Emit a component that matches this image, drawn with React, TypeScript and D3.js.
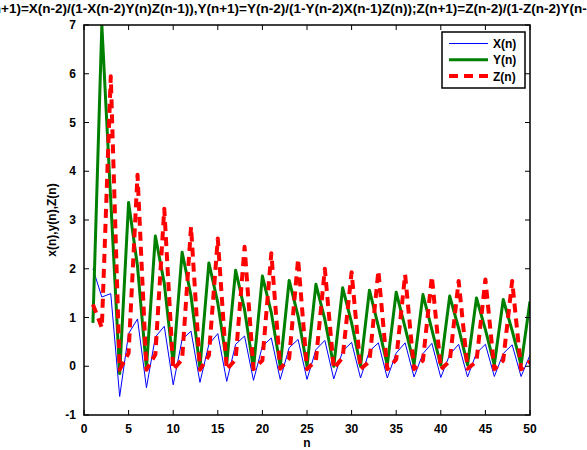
import React, { useEffect, useRef } from 'react';
import * as d3 from 'd3';

const nValues = d3.range(1, 51);

const xSeries = [
  2.0, 1.42, 1.49, -0.62, 0.67, 0.97, -0.44, 0.6, 0.82, -0.38,
  0.55, 0.72, -0.33, 0.45, 0.67, -0.31, 0.45, 0.62, -0.29, 0.41,
  0.58, -0.27, 0.38, 0.55, -0.27, 0.34, 0.53, -0.26, 0.31, 0.49,
  -0.24, 0.31, 0.48, -0.24, 0.27, 0.48, -0.22, 0.26, 0.47, -0.23,
  0.24, 0.45, -0.22, 0.27, 0.45, -0.21, 0.26, 0.44, -0.21, 0.23,
];

const ySeries = [
  0.89, 7.0, 3.4, -0.15, 3.36, 2.05, -0.05, 2.67, 1.7, 0.05,
  2.34, 1.44, -0.03, 2.12, 1.3, 0.06, 1.97, 1.16, -0.05, 1.85,
  1.1, 0.0, 1.76, 1.03, 0.0, 1.68, 0.96, 0.0, 1.61, 0.89,
  0.0, 1.56, 0.82, 0.03, 1.52, 0.79, 0.04, 1.47, 0.75, 0.02,
  1.44, 0.78, 0.03, 1.4, 0.75, 0.03, 1.37, 0.73, 0.03, 1.33,
];

const zSeries = [
  1.27, 0.79, 5.95, -0.07, 0.27, 3.93, -0.07, 0.24, 3.23, -0.07,
  0.14, 2.86, -0.07, 0.22, 2.62, -0.07, 0.14, 2.45, -0.06, 0.12,
  2.32, -0.05, 0.16, 2.2, -0.06, 0.12, 2.0, -0.05, 0.18, 1.93,
  -0.06, 0.1, 1.96, -0.06, 0.14, 1.88, -0.06, 0.12, 1.84, -0.06,
  0.1, 1.75, -0.05, 0.1, 1.78, -0.06, 0.12, 1.75, -0.06, 0.1,
];

const xTicks = [0, 5, 10, 15, 20, 25, 30, 35, 40, 45, 50];
const yTicks = [-1, 0, 1, 2, 3, 4, 5, 6, 7];

const titlePrefix = 'X(n';
const titleRest =
  '+1)=X(n-2)/(1-X(n-2)Y(n)Z(n-1)),Y(n+1)=Y(n-2)/(1-Y(n-2)X(n-1)Z(n));Z(n+1)=Z(n-2)/(1-Z(n-2)Y(n-1)X(n))';

const series = [
  { name: 'X(n)', values: xSeries, color: '#0000ff', width: 1, dash: null },
  { name: 'Y(n)', values: ySeries, color: '#008000', width: 3, dash: null },
  { name: 'Z(n)', values: zSeries, color: '#ff0000', width: 4, dash: '9,6' },
];

const FONT = '"Liberation Sans", Arial, Helvetica, sans-serif';

const App = () => {
  const ref = useRef<SVGSVGElement | null>(null);

  useEffect(() => {
    const svg = d3.select(ref.current);
    svg.selectAll('*').remove();

    const width = 587;
    const height = 450;
    const margin = { top: 25, right: 57, bottom: 35, left: 84 };

    const xScale = d3.scaleLinear()
      .domain([0, 50])
      .range([margin.left, width - margin.right]);

    const yScale = d3.scaleLinear()
      .domain([-1, 7])
      .range([height - margin.bottom, margin.top]);

    const [x0, x1] = xScale.range();
    const [y0, y1] = yScale.range();

    svg.append('defs').append('clipPath')
      .attr('id', 'plot-clip')
      .append('rect')
      .attr('x', x0)
      .attr('y', y1)
      .attr('width', x1 - x0)
      .attr('height', y0 - y1);

    // lines
    const line = d3.line<number>()
      .x((_, i) => xScale(nValues[i]))
      .y(d => yScale(d));

    const plot = svg.append('g').attr('clip-path', 'url(#plot-clip)');
    series.forEach(s => {
      plot.append('path')
        .datum(s.values)
        .attr('fill', 'none')
        .attr('stroke', s.color)
        .attr('stroke-width', s.width)
        .attr('stroke-dasharray', s.dash)
        .attr('stroke-linejoin', 'round')
        .attr('d', line);
    });

    // box and ticks
    svg.append('rect')
      .attr('x', x0)
      .attr('y', y1)
      .attr('width', x1 - x0)
      .attr('height', y0 - y1)
      .attr('fill', 'none')
      .attr('stroke', '#000')
      .attr('stroke-width', 1.5);

    const tickLen = 5;
    xTicks.forEach(t => {
      const x = xScale(t);
      svg.append('line').attr('x1', x).attr('x2', x).attr('y1', y0).attr('y2', y0 - tickLen)
        .attr('stroke', '#000');
      svg.append('line').attr('x1', x).attr('x2', x).attr('y1', y1).attr('y2', y1 + tickLen)
        .attr('stroke', '#000');
      svg.append('text')
        .attr('x', x)
        .attr('y', y0 + 18)
        .attr('text-anchor', 'middle')
        .style('font-family', FONT)
        .style('font-weight', 'bold')
        .style('font-size', '12px')
        .text(t);
    });

    yTicks.forEach(t => {
      const y = yScale(t);
      svg.append('line').attr('x1', x0).attr('x2', x0 + tickLen).attr('y1', y).attr('y2', y)
        .attr('stroke', '#000');
      svg.append('line').attr('x1', x1).attr('x2', x1 - tickLen).attr('y1', y).attr('y2', y)
        .attr('stroke', '#000');
      svg.append('text')
        .attr('x', x0 - 8)
        .attr('y', y + 4)
        .attr('text-anchor', 'end')
        .style('font-family', FONT)
        .style('font-weight', 'bold')
        .style('font-size', '12px')
        .text(t);
    });

    // axis labels
    svg.append('text')
      .attr('x', (x0 + x1) / 2)
      .attr('y', 447)
      .attr('text-anchor', 'middle')
      .style('font-family', FONT)
      .style('font-weight', 'bold')
      .style('font-size', '12px')
      .text('n');

    svg.append('text')
      .attr('transform', 'rotate(-90)')
      .attr('x', -(y0 + y1) / 2)
      .attr('y', 56)
      .attr('text-anchor', 'middle')
      .style('font-family', FONT)
      .style('font-weight', 'bold')
      .style('font-size', '12px')
      .text('x(n),y(n),Z(n)');

    // title, cut off on both sides like the original
    const titleSize = '13.5px';
    const measure = svg.append('text')
      .style('font-family', FONT)
      .style('font-weight', 'bold')
      .style('font-size', titleSize)
      .text(titlePrefix);
    const prefixW = (measure.node() as SVGTextElement).getComputedTextLength();
    measure.remove();

    svg.append('text')
      .attr('x', 1 - prefixW)
      .attr('y', 13)
      .style('font-family', FONT)
      .style('font-weight', 'bold')
      .style('font-size', titleSize)
      .text(titlePrefix + titleRest);

    // legend
    const lg = { x: 442, y: 32, w: 83, h: 56 };
    svg.append('rect')
      .attr('x', lg.x)
      .attr('y', lg.y)
      .attr('width', lg.w)
      .attr('height', lg.h)
      .attr('fill', '#fff')
      .attr('stroke', '#000')
      .attr('stroke-width', 1.5);

    series.forEach((s, i) => {
      const yy = lg.y + 11.5 + i * 16.3;
      svg.append('line')
        .attr('x1', lg.x + 7)
        .attr('x2', lg.x + 46)
        .attr('y1', yy)
        .attr('y2', yy)
        .attr('stroke', s.color)
        .attr('stroke-width', s.width)
        .attr('stroke-dasharray', s.dash);
      svg.append('text')
        .attr('x', lg.x + 51)
        .attr('y', yy + 4.5)
        .style('font-family', FONT)
        .style('font-weight', 'bold')
        .style('font-size', '12px')
        .text(s.name);
    });
  }, []);

  return (
    <svg
      ref={ref}
      width={587}
      height={450}
      style={{ position: 'absolute', left: 0, top: 0, background: '#fff' }}
    />
  );
};

export default App;
